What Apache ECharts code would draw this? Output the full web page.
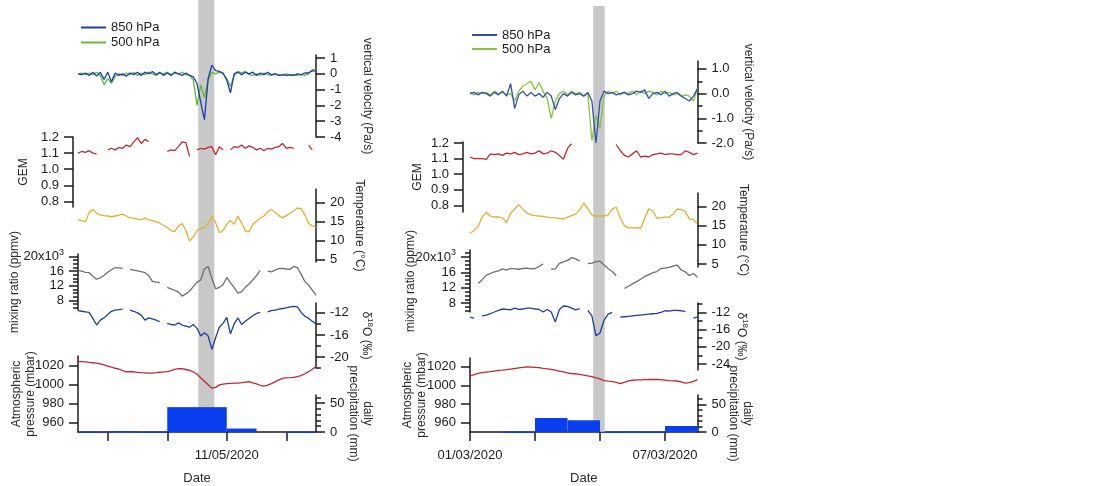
<!DOCTYPE html>
<html><head><meta charset="utf-8">
<script src="https://cdn.jsdelivr.net/npm/echarts@6/dist/echarts.min.js"></script>
<style>html,body{margin:0;padding:0;background:#fff}#c{width:1115px;height:486px}</style>
</head><body><div id="c"></div>
<script>
// ---------------- DATA ----------------
const HOUR = 3600000, DAY = 24 * HOUR, STEP_H = 3;   // series sampled every 3 h
const startL = Date.UTC(2020, 4, 6), endL = Date.UTC(2020, 4, 14);
const startR = Date.UTC(2020, 2, 1), endR = Date.UTC(2020, 2, 8);
const bandL = [Date.UTC(2020, 4, 10, 1), Date.UTC(2020, 4, 10, 14)];
const bandR = [Date.UTC(2020, 2, 4, 19), Date.UTC(2020, 2, 5, 3, 30)];
const xTicksL = [Date.UTC(2020,4,7), Date.UTC(2020,4,9), Date.UTC(2020,4,11), Date.UTC(2020,4,13)];
const xLabelsL = [Date.UTC(2020,4,11)];
const xTicksR = [Date.UTC(2020,2,1), Date.UTC(2020,2,3), Date.UTC(2020,2,5), Date.UTC(2020,2,7)];
const xLabelsR = [Date.UTC(2020,2,1), Date.UTC(2020,2,7)];

// Left event (May 2020)
const vv850L = [0,-0.05,0.05,-0.1,0.1,-0.15,0.1,-0.35,0.1,-0.5, 0.05,-0.1,0,-0.15,0.05,-0.05,0.1,-0.1,0.1,0, 0.15,-0.05,0.1,-0.1,0.05,-0.1,0.1,0,-0.1,0.05, -0.1,-0.2,-0.6,-1.8,-2.9,-0.3,0.55,0.2,0.15,0.05, -0.4,-1.2,0,0.1,-0.05,0.1,0,0.1,-0.1,0.05, -0.05,0.1,-0.05,0,-0.1,-0.05,-0.1,-0.05,-0.1,0, -0.05,0.05,0.05,0.2,0.15];
const vv500L = [0,0.05,-0.05,0.05,-0.05,0.1,-0.1,-0.7,-0.3,-0.6, -0.15,0,-0.1,0.05,-0.05,0.1,-0.1,0.05,-0.05,0.1, 0,-0.1,0.05,0,0.1,-0.05,0.05,0,0.1,-0.05, -0.1,-0.4,-2.0,-0.7,-1.5,-0.4,0.1,0,0.1,0, -0.3,-0.8,-0.1,0.15,0.05,0.15,-0.05,-0.1,0,-0.1, 0.05,-0.05,-0.1,0,-0.05,-0.1,0,-0.1,-0.05,-0.1, -0.05,-0.1,0,0.25,0.3];
const gemL = [1.10,1.11,1.105,1.115,1.10,1.095,null,null,1.12,1.13, 1.12,1.135,1.13,1.15,1.14,1.17,1.195,1.16,1.185,1.17, null,null,null,null,1.11,1.12,1.115,1.14,1.17,1.165, 1.08,null,1.12,1.13,1.125,1.135,1.14,1.09,1.14,1.12, null,1.12,1.14,1.135,1.15,1.13,1.145,1.135,1.12,1.13, 1.115,1.13,1.125,1.135,1.14,1.16,1.13,1.135,1.13,null, null,null,1.15,1.12,null];
const tempL = [15.5,15.2,14.9,17.3,18.2,17.1,16.7,16.5,16.4,16.2, 16.4,16.6,16.9,16.4,15.9,15.8,15.6,15.4,15.9,15.4, 15.2,14.9,14.5,13.9,13.4,12.6,12.3,13.8,14.4,12.5, 9.8,10.8,12.6,13.1,13.3,14.5,16.4,14.7,12.0,12.6, 14.2,15.2,14.2,16.4,14.6,12.5,12.2,14.2,15.0,15.8, 16.4,17.5,18.1,17.4,16.5,15.9,16.5,17.1,17.8,18.5, 18.3,16.7,14.5,13.8,13.5];
const mixL = [16.2,16.0,15.7,15.6,14.6,13.8,14.2,14.9,15.7,16.4, 17.0,16.9,16.8,null,16.5,16.3,16.1,15.9,15.6,14.8, 13.2,13.0,12.9,null,11.6,11.2,10.8,10.3,9.2,9.8, 10.6,11.8,13.0,13.6,16.6,17.3,14.0,11.2,11.6,12.3, 14.3,12.8,11.5,10.0,10.4,11.6,12.5,13.6,14.8,16.2, null,16.0,15.8,16.3,16.7,16.8,16.6,16.5,17.3,17.0, 15.2,13.2,12.2,10.8,9.4]; // x10^3 ppmv
const d18L = [-11.6,-11.7,-11.8,-11.9,-13.0,-14.2,-13.3,-12.9,-12.3,-11.7, -11.5,-11.4,-11.3,null,-11.5,-11.7,-12.0,-12.4,-13.3,-12.9, -13.1,-13.3,-13.6,null,-13.9,-14.1,-14.2,-13.8,-14.2,-14.4, -14.6,-14.1,-14.8,-16.2,-15.6,-16.2,-18.6,-16.5,-14.6,-13.9, -12.8,-15.8,-14.0,-12.9,-14.1,-13.5,-13.0,-12.5,-12.1,-11.9, null,-11.8,-11.6,-11.5,-11.3,-11.2,-11.1,-10.9,-10.8,-10.9, -11.9,-12.6,-13.0,-13.5,-14.0];
const presL = [1024.2,1024.0,1023.8,1023.3,1022.9,1022.4,1021.8,1020.6,1019.4,1018.2, 1017.1,1016.3,1014.6,1013.4,1013.6,1013.4,1012.8,1012.4,1012.3,1012.0, 1012.0,1012.4,1012.9,1013.2,1013.6,1014.7,1016.0,1016.8,1016.6,1015.8, 1015.0,1013.2,1011.0,1007.0,1003.5,999.8,996.2,997.0,999.6,1000.4, 1001.0,1001.2,1001.4,1001.5,1001.9,1002.6,1002.9,1001.8,1000.6,999.2, 998.3,999.3,1000.9,1002.8,1004.8,1006.4,1006.9,1007.2,1007.6,1008.4, 1009.4,1011.3,1013.5,1016.0,1018.8];
const precipL = [0.4, 1.2, 0.4, 43, 43, 6, 0, 0.4];   // daily, mm

// Right event (March 2020)
const vv850R = [0,0.05,-0.05,0.05,0,-0.1,0.05,-0.05,0.1,-0.1, 0.4,-0.6,-0.05,0.1,-0.1,0.05,-0.1,0,-0.15,0.05, -0.1,-0.65,-0.2,0,-0.1,0.05,-0.05,0,-0.1,0.05, -0.3,-2.0,-0.3,0.1,0,0.05,-0.05,0,0.05,-0.05, 0,0.1,0.05,0.15,-0.2,0,0.05,-0.05,0.1,-0.1, 0,0.05,-0.1,-0.2,-0.3,-0.1,0.2];
const vv500R = [0.05,-0.05,0.05,0,0.05,-0.05,0.1,0,0.05,-0.05, 0,-0.3,0.1,0.3,0.4,0.5,0.15,0.45,0.1,-0.2, -1.0,-0.3,0,0.1,-0.05,0.1,0,0.05,-0.1,0, -1.9,-0.9,-1.4,-0.1,0.1,0,0.1,-0.05,0.05,0, 0.1,-0.05,0.1,0,0.1,0.05,-0.05,0.1,0,0.05, -0.05,0,-0.1,-0.05,-0.1,-0.3,0.2];
const gemR = [1.11,1.10,1.10,1.10,1.095,1.13,1.125,1.13,1.12,1.135, 1.13,1.14,1.125,1.13,1.14,1.13,1.135,1.15,1.13,1.135, 1.15,1.14,1.12,1.095,1.165,1.195,null,null,null,null, null,null,null,null,null,null,1.19,1.15,1.12,1.11, 1.13,1.15,1.11,1.115,1.11,1.125,1.13,1.135,1.125,1.13, 1.13,1.125,1.125,1.15,1.14,1.125,1.135];
const tempR = [13.0,13.7,14.8,17.2,18.5,17.5,17.2,17.3,17.0,15.8, 18.2,19.4,20.4,19.3,18.3,17.8,17.6,17.5,17.4,17.2, 17.1,17.0,16.9,16.7,17.2,17.6,18.0,19.1,20.9,19.4, 17.8,17.5,17.5,17.5,17.8,19.3,19.8,17.0,15.0,14.4, 14.4,14.5,14.3,16.8,19.4,18.8,16.9,17.1,17.2,17.2, 18.0,19.3,19.2,18.7,16.7,16.6,15.3];
const mixR = [null,null,13.1,14.1,15.2,15.7,16.1,16.4,16.9,16.6, 17.0,16.9,16.8,17.0,17.1,16.9,17.0,17.5,18.2,null, 16.8,16.9,18.3,18.7,19.1,19.8,19.5,18.9,null,18.3, 18.4,18.8,18.9,17.9,17.0,16.2,15.1,null,11.8,12.4, 13.0,13.6,14.2,14.9,15.4,15.9,16.2,17.0,17.1,17.3, 17.6,17.9,16.6,16.1,15.2,15.7,14.7];
const d18R = [-13.1,-13.3,null,-12.8,-12.6,-12.3,-11.9,-11.5,-11.2,-11.3, -11.4,-11.0,-11.3,-11.2,-11.0,-11.0,-11.2,-11.3,-11.9,-11.3, -11.9,-14.2,-11.3,-10.5,-10.6,-11.0,-11.4,-11.1,null,-11.5, -12.8,-17.4,-16.8,-13.8,-12.4,-12.0,null,-13.1,-13.0,-12.9, -12.8,-12.7,-12.6,-12.5,-12.4,-12.3,-12.2,-12.0,-11.6,-11.7, -11.5,-11.5,-11.6,-11.8,null,-13.3,-13.1];
const presR = [1009.9,1011.6,1013.0,1013.8,1014.4,1014.9,1015.5,1016.1,1016.5,1017.0, 1017.6,1018.2,1018.9,1019.4,1019.9,1019.7,1019.5,1019.1,1018.3,1017.8, 1017.3,1016.4,1015.5,1014.5,1013.4,1012.8,1012.6,1012.0,1011.2,1010.3, 1009.6,1008.1,1007.0,1005.3,1004.7,1004.2,1003.3,1002.1,1003.2,1004.9, 1005.6,1005.9,1006.1,1006.3,1006.4,1006.4,1006.4,1006.2,1005.8,1005.3, 1005.0,1004.8,1003.9,1002.6,1003.0,1004.4,1006.3];
const precipR = [0, 0.4, 25.5, 21.5, 0.4, 0.4, 11];

// tick values
const vvTicksL = [-4,-3,-2,-1,0,1];
const vvTicksR = [-2,-1,0,1], vvMinorR = [-1.5,-0.5,0.5];
const gemTicks = [0.8,0.9,1.0,1.1,1.2];
const tempTicks = [5,10,15,20];
const mixTicks = [8,12,16,20], mixMinor = [6,7,9,10,11,13,14,15,17,18,19,21];
const d18TicksL = [-20,-16,-12], d18MinorL = [-22,-18,-14];
const d18TicksR = [-24,-20,-16,-12], d18MinorR = [-22,-18,-14,-10];
const presTicks = [960,980,1000,1020];
const precTicks = [0,50], precMinor = [10,20,30,40,60];

// ---------------- STYLE ----------------
const FONT = 'Liberation Sans, Arial, Helvetica, sans-serif';
const AX = '#1b1b1b', TXT = '#1b1b1b', NAMEC = '#2a2a2a';
const C = {
  v850L:'#1d3fae', v500L:'#63b934', v850R:'#2d52ab', v500R:'#86c43c',
  gem:'#c0282f', temp:'#e0b032', mix:'#6e6e6e', d18:'#1f3d9c', pres:'#c0282f', prec:'#0a3ff0', band:'#c8c8c8'
};

const grid = [], xAxis = [], yAxis = [], series = [];
const ts = (start, arr) => arr.map((v, i) => [start + i * STEP_H * HOUR, v]);
const pad = n => (n < 10 ? '0' : '') + n;
const fmtDate = v => { const d = new Date(v); return pad(d.getUTCDate()) + '/' + pad(d.getUTCMonth() + 1) + '/' + d.getUTCFullYear(); };
const f1 = v => Number(v).toFixed(1);
const fInt = v => String(Math.round(v));
const fMix = v => v === 20 ? '{m|20x10}{s|3}' : String(v);
const mixRich = { m:{fontSize:13, fontFamily:FONT, color:TXT, lineHeight:18}, s:{fontSize:9, fontFamily:FONT, color:TXT, lineHeight:9, verticalAlign:'top'} };
const d18Name = '{a|δ}{s|18}{a|O (‰)}';
const d18Rich = { a:{fontSize:12, fontFamily:FONT, color:NAMEC, lineHeight:16}, s:{fontSize:8, fontFamily:FONT, color:NAMEC, lineHeight:8, verticalAlign:'top'} };

function addGrid(left, top, width, height) {
  grid.push({ left, top, width, height, containLabel:false, outerBoundsMode:'none' });
  return grid.length - 1;
}
function addHiddenX(g, min, max) {
  xAxis.push({ gridIndex:g, type:'value', min, max, show:false, splitLine:{show:false} });
  return xAxis.length - 1;
}
function addY(g, s) {
  yAxis.push({
    gridIndex:g, type:'value', position:s.pos, min:s.min, max:s.max, offset:s.offset || 0,
    axisLine:{show:true, onZero:false, lineStyle:{color:AX, width:1.5}},
    axisTick:{show:true, inside:false, length:9, customValues:s.major, lineStyle:{color:AX, width:1.5}},
    axisLabel:{show:true, customValues:s.major, formatter:s.fmt || fInt, margin:14, fontSize:13, fontFamily:FONT, color:TXT, rich:s.rich},
    splitLine:{show:false},
    name:s.name, nameLocation:'middle', nameGap:s.gap, nameRotate:s.pos === 'left' ? 90 : -90, nameMoveOverlap:false,
    nameTextStyle:{fontSize:12, fontFamily:FONT, color:NAMEC, lineHeight:14, rich:s.nameRich}
  });
  const idx = yAxis.length - 1;
  if (s.minor) {
    yAxis.push({
      gridIndex:g, type:'value', position:s.pos, min:s.min, max:s.max, offset:s.offset || 0,
      axisLine:{show:false}, axisTick:{show:true, length:5, customValues:s.minor, lineStyle:{color:AX, width:1.5}},
      axisLabel:{show:false}, splitLine:{show:false}
    });
  }
  return idx;
}
function lineSeries(name, xi, yi, data, color, z) {
  series.push({ name, type:'line', xAxisIndex:xi, yAxisIndex:yi, data, showSymbol:false, symbol:'none',
    connectNulls:false, lineStyle:{color, width:1.3}, itemStyle:{color}, z:z || 3, silent:true, animation:false });
}
function bandRender(params, api) {
  const a = api.coord([api.value(0), 1]);
  const b = api.coord([api.value(1), 0]);
  return { type:'rect', shape:{x:a[0], y:a[1], width:b[0] - a[0], height:b[1] - a[1]}, style:{fill:C.band} };
}
function barRender(params, api) {
  const t0 = api.value(0), v = api.value(1);
  if (!(v > 0)) return null;
  const p0 = api.coord([t0, v]), p1 = api.coord([t0 + DAY, 0]);
  return { type:'rect', shape:{x:p0[0], y:p0[1], width:p1[0] - p0[0], height:Math.max(p1[1] - p0[1], 1.2)}, style:{fill:C.prec} };
}

function buildPanel(P) {
  // grey event band
  const gb = addGrid(P.left, P.bandTop, P.width, 432 - P.bandTop);
  const xb = addHiddenX(gb, P.start, P.end);
  yAxis.push({ gridIndex:gb, type:'value', min:0, max:1, show:false, splitLine:{show:false} });
  series.push({ type:'custom', xAxisIndex:xb, yAxisIndex:yAxis.length - 1, data:[P.band], renderItem:bandRender, z:1, silent:true, animation:false });

  for (const s of P.subs) {
    const g = addGrid(P.left, s.top, P.width, s.h);
    let xi;
    if (s.xAxisVisible) {
      xAxis.push({
        gridIndex:g, type:'value', min:P.start, max:P.end, position:'bottom',
        axisLine:{show:true, onZero:false, lineStyle:{color:AX, width:1.5}},
        axisTick:{show:true, length:9, customValues:P.xTicks, lineStyle:{color:AX, width:1.5}},
        axisLabel:{show:true, customValues:P.xLabels, formatter:fmtDate, margin:17, fontSize:13, fontFamily:FONT, color:TXT},
        splitLine:{show:false},
        name:'Date', nameLocation:'middle', nameGap:40, nameTextStyle:{fontSize:13, fontFamily:FONT, color:NAMEC}
      });
      xi = xAxis.length - 1;
    } else {
      xi = addHiddenX(g, P.start, P.end);
    }
    const yi = addY(g, s);
    s.draw(xi, yi);
  }
}

buildPanel({
  left:78, width:238, start:startL, end:endL, bandTop:0, band:bandL, xTicks:xTicksL, xLabels:xLabelsL,
  subs:[
    {top:55, h:82, pos:'right', min:-4, max:1.19, major:vvTicksL, fmt:fInt, name:'vertical velocity (Pa/s)', gap:44,
      draw:(x,y)=>{ lineSeries('850 hPa', x, y, ts(startL, vv850L), C.v850L, 4); lineSeries('500 hPa', x, y, ts(startL, vv500L), C.v500L, 3); }},
    {top:137, h:70, pos:'left', offset:5, min:0.765, max:1.2, major:gemTicks, fmt:f1, name:'GEM', gap:42,
      draw:(x,y)=>lineSeries('GEM', x, y, ts(startL, gemL), C.gem)},
    {top:189, h:73, pos:'right', min:4.3, max:23.5, major:tempTicks, fmt:fInt, name:'Temperature (°C)', gap:36,
      draw:(x,y)=>lineSeries('Temperature', x, y, ts(startL, tempL), C.temp)},
    {top:254, h:56, pos:'left', min:5.4, max:20.7, major:mixTicks, minor:mixMinor.filter(v=>v<20.7), fmt:fMix, rich:mixRich, name:'mixing ratio (ppmv)', gap:56,
      draw:(x,y)=>lineSeries('mixing ratio', x, y, ts(startL, mixL), C.mix)},
    {top:303, h:65, pos:'right', min:-22, max:-10.2, major:d18TicksL, minor:d18MinorL, fmt:fInt, name:d18Name, nameRich:d18Rich, gap:42,
      draw:(x,y)=>lineSeries('d18O', x, y, ts(startL, d18L), C.d18)},
    {top:356, h:76, pos:'left', min:950, max:1030, major:presTicks, fmt:fInt, name:'Atmospheric\npressure (mbar)', gap:40,
      draw:(x,y)=>lineSeries('pressure', x, y, ts(startL, presL), C.pres)},
    {top:395, h:37, pos:'right', min:0, max:64, major:precTicks, minor:precMinor, fmt:fInt, name:'daily\nprecipitation (mm)', gap:30, xAxisVisible:true,
      draw:(x,y)=>series.push({type:'custom', xAxisIndex:x, yAxisIndex:y, data:precipL.map((v,i)=>[startL + i*DAY, v]), renderItem:barRender, z:2, silent:true, animation:false})}
  ]
});

buildPanel({
  left:470, width:227.5, start:startR, end:endR, bandTop:6, band:bandR, xTicks:xTicksR, xLabels:xLabelsR,
  subs:[
    {top:61, h:82, pos:'right', min:-2, max:1.32, major:vvTicksR, minor:vvMinorR, fmt:f1, name:'vertical velocity (Pa/s)', gap:44,
      draw:(x,y)=>{ lineSeries('850 hPa', x, y, ts(startR, vv850R), C.v850R, 4); lineSeries('500 hPa', x, y, ts(startR, vv500R), C.v500R, 3); }},
    {top:142, h:70, pos:'left', offset:7, min:0.758, max:1.206, major:gemTicks, fmt:f1, name:'GEM', gap:38,
      draw:(x,y)=>lineSeries('GEM', x, y, ts(startR, gemR), C.gem)},
    {top:193, h:74, pos:'right', min:4.2, max:23.5, major:tempTicks, fmt:fInt, name:'Temperature (°C)', gap:39,
      draw:(x,y)=>lineSeries('Temperature', x, y, ts(startR, tempR), C.temp)},
    {top:250, h:62, pos:'left', min:5.7, max:21.8, major:mixTicks, minor:mixMinor, fmt:fMix, rich:mixRich, name:'mixing ratio (ppmv)', gap:52,
      draw:(x,y)=>lineSeries('mixing ratio', x, y, ts(startR, mixR), C.mix)},
    {top:303, h:67, pos:'right', min:-25.4, max:-9.8, major:d18TicksR, minor:d18MinorR, fmt:fInt, name:d18Name, nameRich:d18Rich, gap:36,
      draw:(x,y)=>lineSeries('d18O', x, y, ts(startR, d18R), C.d18)},
    {top:358, h:74, pos:'left', min:950, max:1029.5, major:presTicks, fmt:fInt, name:'Atmospheric\npressure (mbar)', gap:41,
      draw:(x,y)=>lineSeries('pressure', x, y, ts(startR, presR), C.pres)},
    {top:395, h:37, pos:'right', min:0, max:67, major:precTicks, minor:precMinor, fmt:fInt, name:'daily\nprecipitation (mm)', gap:29, xAxisVisible:true,
      draw:(x,y)=>series.push({type:'custom', xAxisIndex:x, yAxisIndex:y, data:precipR.map((v,i)=>[startR + i*DAY, v]), renderItem:barRender, z:2, silent:true, animation:false})}
  ]
});

const legendBase = { orient:'vertical', icon:'rect', itemWidth:25, itemHeight:2, itemGap:0, selectedMode:false,
  textStyle:{fontSize:13, fontFamily:FONT, color:TXT, lineHeight:15} };

const chart = echarts.init(document.getElementById('c'), null, {renderer:'canvas'});
chart.setOption({
  animation:false,
  backgroundColor:'#ffffff',
  legend:[
    Object.assign({}, legendBase, {left:76, top:15, data:[{name:'850 hPa', itemStyle:{color:C.v850L}}, {name:'500 hPa', itemStyle:{color:C.v500L}}]}),
    Object.assign({}, legendBase, {left:467, top:23, textStyle:Object.assign({}, legendBase.textStyle, {lineHeight:14}),
      data:[{name:'850 hPa', itemStyle:{color:C.v850R}}, {name:'500 hPa', itemStyle:{color:C.v500R}}]})
  ],
  grid, xAxis, yAxis, series
});
</script>
</body></html>
